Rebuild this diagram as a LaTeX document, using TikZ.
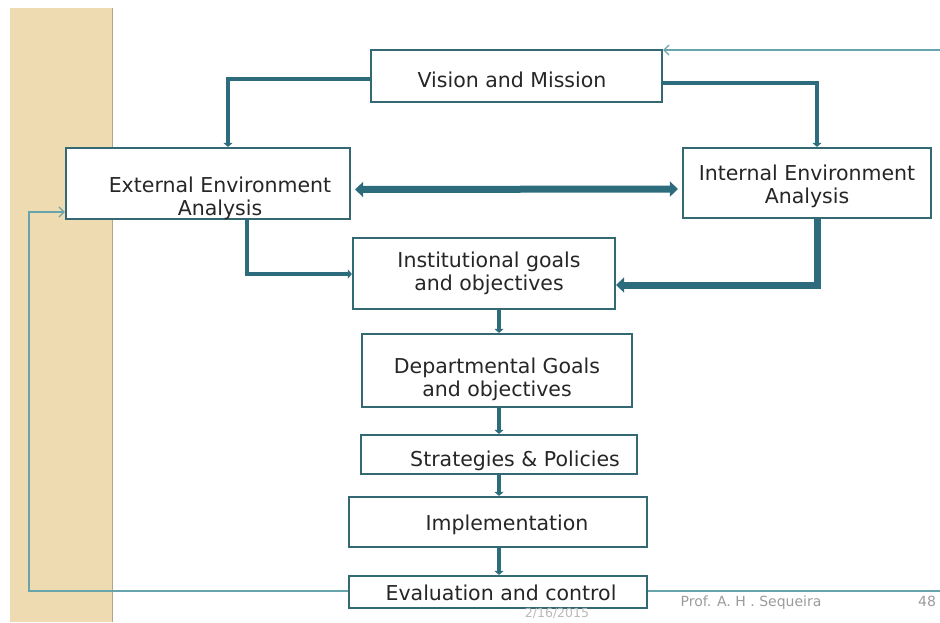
\documentclass[tikz,border=0pt]{standalone}
\usepackage{fontspec}
\setmainfont{DejaVu Sans}
\usetikzlibrary{arrows.meta}

\definecolor{sand}{RGB}{238,219,178}
\definecolor{boxline}{RGB}{52,104,114}
\definecolor{flowc}{RGB}{44,108,124}
\definecolor{backc}{RGB}{104,164,172}
\definecolor{footc}{RGB}{155,155,155}

\tikzset{
  box/.style={draw=boxline, line width=2.2pt, fill=white, inner sep=0pt},
  lbl/.style={font=\fontsize{20.5}{23}\selectfont, text=black!85, align=center, anchor=base, inner sep=0pt},
  flow/.style={draw=flowc, line width=4.5pt, line join=miter, -{Triangle[length=4pt,width=9pt]}},
  bigflow/.style={draw=flowc, line width=7pt, -{Triangle[length=8pt,width=15pt]}},
  backline/.style={draw=backc, line width=1.3pt, -{Straight Barb[length=5pt,width=10pt]}},
  footer/.style={font=\fontsize{14}{16}\selectfont, text=footc, anchor=base, inner sep=0pt}
}

\begin{document}
\begin{tikzpicture}[x=1pt,y=-1pt]

    % --- Page and side band ---
    \useasboundingbox (0,0) rectangle (940,622);
    \fill[sand] (10,8) rectangle (113,622);
    \draw[sand!75!black, line width=1pt] (112.5,8) -- (112.5,622);

    % --- Boxes ---
    \node[box, minimum width=291pt, minimum height=52pt] (vis)   at (516.5,76)  {};
    \node[box, minimum width=284pt, minimum height=71pt] (ext)   at (208,183.5) {};
    \node[box, minimum width=248pt, minimum height=70pt] (int)   at (807,183)   {};
    \node[box, minimum width=262pt, minimum height=71pt] (inst)  at (484,273.5) {};
    \node[box, minimum width=270pt, minimum height=73pt] (dept)  at (497,370.5) {};
    \node[box, minimum width=276pt, minimum height=39pt] (strat) at (499,454.5) {};
    \node[box, minimum width=298pt, minimum height=50pt] (impl)  at (498,522)   {};
    \node[box, minimum width=298pt, minimum height=32pt] (eval)  at (498,592)   {};

    % --- Box texts (base = last line) ---
    \node[lbl] (vis-t)   at (512,87)  {Vision and Mission};
    \node[lbl] (ext-t)   at (220,215) {External Environment\\Analysis};
    \node[lbl] (int-t)   at (807,203) {Internal Environment\\Analysis};
    \node[lbl] (inst-t)  at (489,290) {Institutional goals\\and objectives};
    \node[lbl] (dept-t)  at (497,396) {Departmental Goals\\and objectives};
    \node[lbl] (strat-t) at (515,466) {Strategies \& Policies};
    \node[lbl] (impl-t)  at (507,530) {Implementation};
    \node[lbl] (eval-t)  at (501,600) {Evaluation and control};

    % --- Vision to both analyses ---
    \coordinate (vl) at (228,0);
    \coordinate (vr) at (817,0);
    \draw[flow] ([yshift=-3pt]vis.west) -| (vl |- ext.north);
    \draw[flow] ([yshift=-7pt]vis.east) -| (vr |- int.north);

    % --- Exchange between the analyses ---
    \draw[bigflow, {Triangle[length=8pt,width=15pt]}-{Triangle[length=8pt,width=15pt]}, shorten <=4pt, shorten >=4pt]
        ([yshift=-6pt]ext.east) -- ([yshift=-6pt]int.west);

    % --- Analyses into institutional goals ---
    \coordinate (el) at (247,274);
    \coordinate (ir) at (817,285);
    \draw[flow] (el |- ext.south) -- (el) -- (el -| inst.west);
    \draw[bigflow] (ir |- int.south) -- (ir) -- (ir -| inst.east);

    % --- Main chain ---
    \coordinate (spine) at (499,0);
    \draw[flow] (spine |- inst.south)  -- (spine |- dept.north);
    \draw[flow] (spine |- dept.south)  -- (spine |- strat.north);
    \draw[flow] (spine |- strat.south) -- (spine |- impl.north);
    \draw[flow] (spine |- impl.south)  -- (spine |- eval.north);

    % --- Feedback loops ---
    \coordinate (fbL) at (29,212);
    \coordinate (fbR) at (945,50);
    \draw[backline] ([yshift=1pt]eval.west) -| (fbL) -- (fbL -| ext.west);
    \draw[backline] ([yshift=1pt]eval.east) -| (fbR) -- (fbR -| vis.east);

    % --- Footer ---
    \node[footer, text=footc!70, font=\fontsize{12.5}{14}\selectfont] (date) at (557,617) {2/16/2015};
    \node[footer] (author) at (751,606) {Prof. A. H . Sequeira};
    \node[footer] (page)   at (927,606) {48};

\end{tikzpicture}
\end{document}
